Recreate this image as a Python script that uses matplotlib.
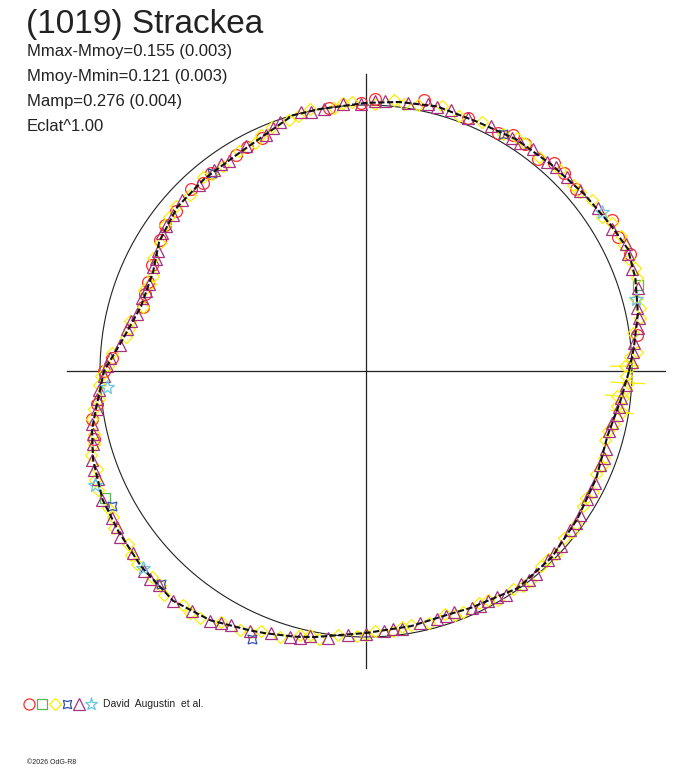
import numpy as np
import matplotlib.pyplot as plt

plt.rcParams['font.family'] = ['Liberation Sans', 'DejaVu Sans']

# model light curve in polar form: phase angle (deg) and relative flux radius
curve_ang = [0, 5, 12, 19, 25, 31, 39, 48, 57, 66, 75, 83, 90, 100, 106, 112, 121,
             130, 139, 148, 155, 164, 173, 180, 187, 192, 198, 206, 213, 221, 230,
             238, 246, 249, 255, 259, 270, 280, 288, 294, 305, 315, 325, 335, 345,
             353, 360]
curve_r = [0.989, 1.011, 1.045, 1.071, 1.086, 1.071, 1.056, 1.043, 1.038, 1.026,
           1.030, 1.019, 1.008, 1.000, 1.000, 0.970, 0.947, 0.944, 0.940, 0.917,
           0.883, 0.880, 0.925, 0.985, 1.019, 1.053, 1.079, 1.102, 1.109, 1.120,
           1.128, 1.105, 1.068, 1.056, 1.034, 1.019, 0.985, 0.974, 0.966, 0.974,
           0.996, 0.989, 0.970, 0.955, 0.940, 0.962, 0.989]

# observations, one set per observer symbol
circle_ang = [7.6, 24, 28, 31.5, 41, 45, 48, 51, 55, 58, 61, 68, 78, 88, 91, 98,
              114, 118, 121, 128, 131, 134, 140, 144, 147.5, 153.6, 157.8, 160.8,
              164, 177, 180, 187, 190, 194]
circle_r = [1.028, 1.085, 1.073, 1.083, 1.044, 1.053, 1.054, 1.027, 1.043, 1.045,
            1.021, 1.026, 1.040, 1.023, 1.008, 0.999, 0.960, 0.952, 0.947, 0.945,
            0.936, 0.949, 0.934, 0.934, 0.918, 0.898, 0.885, 0.878, 0.874, 0.957,
            0.985, 1.018, 1.046, 1.055]

square_ang = [17.5, 206]
square_r = [1.073, 1.090]

diamond_ang = [1, 4, 8, 11, 15, 19, 23, 28, 33, 37, 42, 46, 51, 55, 60, 65, 70, 74,
               79, 84, 88, 93, 97, 102, 107, 111, 116, 120, 125, 130, 135, 139, 144,
               148, 152, 156, 160, 164, 168, 172, 176, 179, 183, 186, 190, 193, 197,
               200, 204, 208, 212, 216, 220, 224, 228, 232, 236, 240, 244, 248, 252,
               256, 260, 264, 268, 272, 276, 280, 284, 288, 292, 296, 300, 304, 308,
               312, 316, 320, 324, 328, 332, 336, 340, 344, 348, 352, 356, 359,
               3, 13, 21, 26, 31, 40, 57, 82, 95, 105, 114, 128, 142, 158, 170, 181,
               188, 195, 202, 210, 218, 226, 234, 246, 258, 270, 278, 290, 298, 306,
               314, 322, 330, 338, 346, 354]
diamond_r = [0.998, 1.020, 1.015, 1.048, 1.050, 1.079, 1.074, 1.085, 1.060, 1.066,
             1.047, 1.052, 1.036, 1.045, 1.028, 1.034, 1.022, 1.036, 1.019, 1.024,
             1.006, 1.012, 0.996, 1.006, 0.988, 0.982, 0.953, 0.957, 0.940, 0.951,
             0.936, 0.946, 0.934, 0.911, 0.905, 0.877, 0.889, 0.874, 0.907, 0.913,
             0.958, 0.970, 1.006, 1.008, 1.046, 1.050, 1.082, 1.078, 1.103, 1.097,
             1.116, 1.106, 1.126, 1.116, 1.133, 1.115, 1.118, 1.089, 1.084, 1.053,
             1.052, 1.024, 1.022, 0.998, 0.997, 0.977, 0.984, 0.968, 0.976, 0.960,
             0.977, 0.972, 0.992, 0.988, 1.000, 0.985, 0.993, 0.974, 0.978, 0.960,
             0.966, 0.948, 0.954, 0.936, 0.955, 0.952, 0.980, 0.978,
             0.995, 1.056, 1.083, 1.078, 1.077, 1.049, 1.044, 1.015, 1.010, 0.993,
             0.972, 0.938, 0.939, 0.875, 0.903, 0.997, 1.033, 1.059, 1.098, 1.099,
             1.123, 1.117, 1.124, 1.075, 1.016, 0.991, 0.970, 0.975, 0.976, 1.001,
             0.984, 0.982, 0.956, 0.957, 0.937, 0.972]

# diamonds that carry radial error bars
diamond_err_ang = [1.1, 357.4, 354.3, 350.9]
diamond_err_r = [0.974, 0.986, 0.948, 0.975]
diamond_err = [0.053, 0.063, 0.044, 0.042]

bluestar_ang = [60, 128, 208, 226, 247]
bluestar_r = [1.028, 0.943, 1.082, 1.111, 1.095]

triangle_ang = [2, 6, 9, 13, 17, 21, 26, 30, 35, 40, 44, 49, 53, 58, 63, 68, 72, 77,
                81, 86, 91, 95, 99, 104, 109, 113, 118, 123, 127, 132, 137, 141, 146,
                150, 154, 158, 162, 166, 170, 174, 177, 181, 184, 188, 191, 195, 198,
                202, 206, 210, 214, 218, 222, 226, 230, 234, 238, 242, 246, 250, 254,
                258, 262, 266, 270, 274, 278, 282, 286, 290, 294, 298, 302, 306, 310,
                314, 318, 322, 326, 330, 334, 338, 342, 346, 350, 354, 357,
                4, 11, 24, 47, 56, 75, 88, 102, 111, 125, 144, 152, 160, 168, 179,
                186, 193, 200, 212, 224, 240, 256, 276, 288, 296, 300, 308, 316, 324,
                332, 340, 348, 352]
triangle_r = [1.000, 1.012, 1.034, 1.046, 1.068, 1.073, 1.088, 1.070, 1.066, 1.052,
              1.051, 1.040, 1.043, 1.034, 1.033, 1.024, 1.031, 1.030, 1.019, 1.017,
              1.004, 1.009, 0.998, 1.003, 0.990, 0.964, 0.958, 0.943, 0.948, 0.940,
              0.944, 0.932, 0.926, 0.904, 0.893, 0.878, 0.885, 0.886, 0.914, 0.930,
              0.962, 0.986, 1.008, 1.022, 1.050, 1.062, 1.083, 1.088, 1.106, 1.102,
              1.114, 1.112, 1.125, 1.120, 1.131, 1.114, 1.108, 1.083, 1.072, 1.049,
              1.041, 1.020, 1.013, 0.994, 0.988, 0.978, 0.979, 0.969, 0.971, 0.966,
              0.977, 0.979, 0.994, 0.992, 0.996, 0.987, 0.986, 0.973, 0.971, 0.959,
              0.959, 0.948, 0.948, 0.940, 0.957, 0.963, 0.980,
              1.006, 1.044, 1.080, 1.047, 1.035, 1.027, 1.015, 0.997, 0.979, 0.949,
              0.930, 0.895, 0.879, 0.904, 0.974, 1.017, 1.054, 1.089, 1.105, 1.127,
              1.093, 1.033, 0.976, 0.969, 0.981, 0.983, 0.997, 0.984, 0.975, 0.957,
              0.951, 0.945, 0.962]

cyanstar_ang = [15, 34, 183.5, 202.8, 221.5]
cyanstar_r = [1.050, 1.070, 0.976, 1.105, 1.118]

stats = ['Mmax-Mmoy=0.155 (0.003)', 'Mmoy-Mmin=0.121 (0.003)',
         'Mamp=0.276 (0.004)', 'Eclat^1.00']


def xy(ang, r):
    a = np.radians(np.asarray(ang, dtype=float))
    r = np.asarray(r, dtype=float)
    return r * np.cos(a), r * np.sin(a)


W, H = 688, 768
fig = plt.figure(figsize=(W / 100, H / 100), dpi=100)
lim = 300 / 266
ax = fig.add_axes([66 / W, 97 / H, 600 / W, 600 / H])
ax.set_xlim(-lim, lim)
ax.set_ylim(-lim, lim)
ax.axis('off')

# axes cross and unit circle
ax.plot([-1.125, 1.128], [0, 0], color='#222222', lw=0.9)
ax.plot([0, 0], [-1.118, 1.118], color='#222222', lw=0.9)
t = np.linspace(0, 2 * np.pi, 400)
ax.plot(np.cos(t), np.sin(t), color='#222222', lw=0.8)

mk = dict(ls='none', mfc='none', mew=0.9)
x, y = xy(circle_ang, circle_r)
ax.plot(x, y, marker='o', ms=8.5, mec='#ff2a2a', **mk)
x, y = xy(square_ang, square_r)
ax.plot(x, y, marker='s', ms=7, mec='#55b84a', **mk)
x, y = xy(diamond_ang, diamond_r)
ax.plot(x, y, marker='D', ms=6.5, mec='#f5f000', **mk)

# radial error bars
for a, r, e in zip(diamond_err_ang, diamond_err_r, diamond_err):
    ex, ey = xy([a, a], [r - e, r + e])
    ax.plot(ex, ey, color='#f5f000', lw=0.9)
x, y = xy(diamond_err_ang, diamond_err_r)
ax.plot(x, y, marker='D', ms=6.5, mec='#f5f000', **mk)

x, y = xy(bluestar_ang, bluestar_r)
ax.plot(x, y, marker=(4, 1, 45), ms=9, mec='#3552a8', **mk)
x, y = xy(triangle_ang, triangle_r)
ax.plot(x, y, marker='^', ms=8, mec='#a8307e', **mk)
x, y = xy(cyanstar_ang, cyanstar_r)
ax.plot(x, y, marker='*', ms=10, mec='#66c8e0', **mk)

cx, cy = xy(curve_ang, curve_r)
ax.plot(cx, cy, color='#111111', lw=1.5, dashes=(3, 1.2), zorder=5)

# header texts
fig.text(26 / W, 1 - 33 / H, '(1019) Strackea', fontsize=24, color='#222222',
         va='baseline', ha='left')
for i, s in enumerate(stats):
    fig.text(27 / W, 1 - (56 + 25 * i) / H, s, fontsize=12, color='#222222',
             va='baseline', ha='left')

# legend row
lx = [29, 42, 55, 67, 79, 91]
lmark = ['o', 's', 'D', (4, 1, 45), '^', '*']
lcol = ['#ff2a2a', '#55b84a', '#f5f000', '#3552a8', '#a8307e', '#66c8e0']
lms = [8, 6.5, 6, 8.5, 8, 9.5]
lax = fig.add_axes([0, 0, 1, 1], facecolor='none')
lax.set_xlim(0, W)
lax.set_ylim(H, 0)
lax.axis('off')
for px, m, c, s in zip(lx, lmark, lcol, lms):
    lax.plot([px], [704], marker=m, ms=s, mec=c, mfc='none', mew=0.9, ls='none')
fig.text(103 / W, 1 - 704 / H, 'David  Augustin  et al.', fontsize=7.5,
         color='#222222', va='center', ha='left')
fig.text(27 / W, 1 - 762 / H, '\u00a92026 OdG-R8', fontsize=5,
         color='#222222', va='center', ha='left')

fig.savefig('out.png', dpi=100)
